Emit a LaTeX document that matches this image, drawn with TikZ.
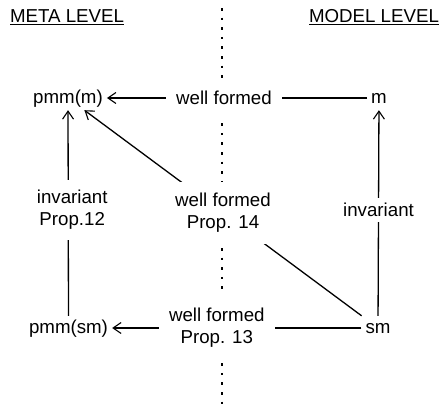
\documentclass[tikz,border=0pt]{standalone}
\usepackage{fontspec}
\setmainfont{Liberation Sans}
\usetikzlibrary{arrows.meta}
\begin{document}
\begin{tikzpicture}[x=1pt,y=-1pt,
  every node/.style={font=\fontsize{18.7}{22}\selectfont},
  obj/.style={inner xsep=4pt, inner ysep=3pt, text height=14pt, text depth=4pt},
  lab/.style={fill=white, align=center, inner xsep=10pt, inner ysep=12pt},
  edge/.style={line width=1.3pt, -{Straight Barb[length=8pt,width=11pt,line width=1.1pt]}},
  dotline/.style={line width=1.6pt, dash pattern=on 2.6pt off 7pt},
  head/.style={anchor=base}]
\useasboundingbox (0,0) rectangle (441,407);
% level headings
\node[head] (meta) at (67,22.5) {\underline{META LEVEL}};
\node[head] (model) at (374,22.5) {\underline{MODEL LEVEL}};
% dotted separator
\coordinate (dtop) at (222,8);
\coordinate (dbot) at (222,407);
\draw[dotline] (dtop) -- (dbot);
% objects
\node[obj] (pmmm) at (68,98) {pmm(m)};
\node[obj] (m) at (379,98) {m};
\node[obj] (pmmsm) at (68.5,328) {pmm(sm)};
\node[obj] (sm) at (378,328) {sm};
% connectors
\draw[edge] (m) -- node[lab, pos=0.55] (wf1) {well formed} (pmmm);
\draw[edge] (sm) -- node[lab, pos=0.58, inner ysep=13pt] (wf13) {well formed\\Prop. 13} (pmmsm);
\draw[edge] (pmmsm) -- node[lab, pos=0.515, inner ysep=10pt, xshift=4pt] (inv12) {invariant\\Prop.12} (pmmm);
\draw[edge] (sm) -- node[lab, pos=0.515, inner ysep=5pt] (inv) {invariant} (m);
\draw[edge] (sm) -- node[lab, inner ysep=11pt] (wf14) {well formed\\Prop. 14} (pmmm);
\end{tikzpicture}
\end{document}
